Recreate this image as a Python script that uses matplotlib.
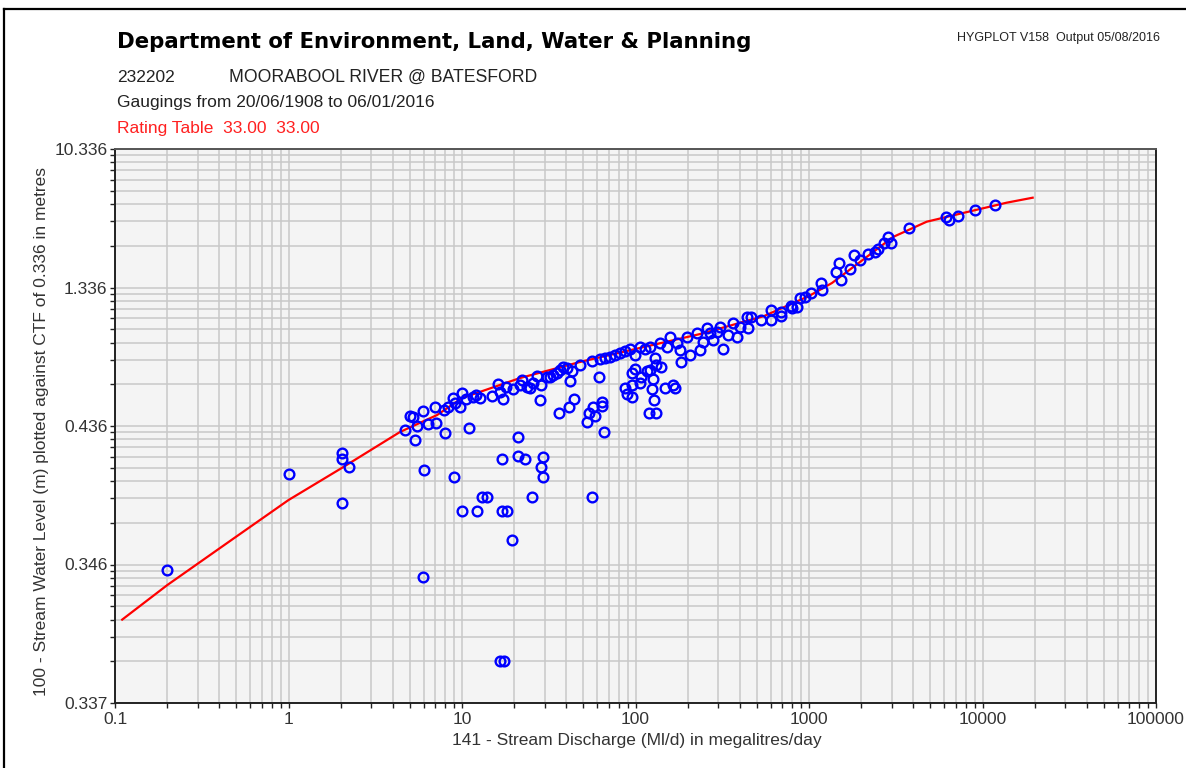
import matplotlib
matplotlib.use("Agg")
import matplotlib.pyplot as plt
from matplotlib.lines import Line2D
from matplotlib.ticker import LogLocator, FuncFormatter, NullFormatter

plt.rcParams['font.family'] = ['Liberation Sans', 'DejaVu Sans']

# Cease-to-flow level (m); stage is plotted as height above this datum
CTF = 0.336

# Rating table 33.00: discharge (Ml/d) and stage (m)
rating_q = [0.11, 0.2, 0.5, 1.0, 2.03, 4.39, 7.18, 10.0, 21.6, 47.9, 100,
            235, 551, 1000, 1357, 1968, 3048, 4767, 7725, 13780, 19460]
rating_stage = [0.3400, 0.3431, 0.3519, 0.3652, 0.3858, 0.4265, 0.4560,
                0.4950, 0.5580, 0.6260, 0.6960, 0.7970, 0.9580, 1.2040, 1.4140,
                1.8640, 2.6510, 3.3210, 3.7870, 4.4320, 4.7860]

# Gaugings 1908-2016: measured discharge (Ml/d) and stage (m)
gauge_q = [
    0.2, 1.0, 2.03, 2.03, 2.24, 2.03, 4.69, 5.01, 5.24, 5.53, 5.36, 5.99, 6.04,
    5.99, 6.40, 6.99, 7.08, 7.98, 7.87, 8.34, 8.91, 9.11, 9.74, 10.0, 9.03, 11.0,
    10.5, 11.6, 12.0, 12.7, 10.0, 12.2, 13.0, 14.0, 14.9, 16.2, 16.6, 17.2, 16.9,
    17.9, 16.9, 18.1, 19.3, 16.6, 17.5, 19.8, 21.1, 21.1, 22.1, 23.1, 21.6, 23.6,
    24.7, 25.8, 27.2, 28.2, 28.4, 29.4, 28.4, 29.2, 25.3, 30.8, 32.1, 33.6, 35.1,
    36.4, 36.7, 38.4, 40.1, 41.6, 41.9, 42.9, 44.2, 47.9, 55.9, 52.8, 54.2, 57.1,
    58.4, 61.9, 63.8, 64.1, 65.8, 56.2, 62.4, 66.7, 71.3, 76.2, 81.4, 87.0, 93.0,
    87.0, 88.9, 95.0, 95.0, 95.0, 99.3, 106, 108, 116, 121, 124, 126, 127, 119,
    132, 130, 132, 141, 148, 165, 169, 99.3, 106, 113, 121, 138, 151, 158, 173,
    180, 184, 197, 206, 225, 235, 246, 257, 269, 281, 294, 307, 321, 343, 366,
    383, 400, 437, 447, 465, 527, 605, 605, 692, 692, 783, 803, 852, 886, 946,
    1029, 1165, 1194, 1434, 1492, 1530, 1714, 1820, 1980, 2197, 2390, 2512, 2706,
    2872, 2958, 3791, 6133, 6446, 7224, 9029, 11800,
]
gauge_stage = [
    0.3451, 0.3812, 0.4002, 0.3934, 0.3869, 0.3636, 0.4296, 0.4541, 0.4515,
    0.4360, 0.4153, 0.4643, 0.3841, 0.3441, 0.4393, 0.4724, 0.4405, 0.4255,
    0.4664, 0.4739, 0.4943, 0.4817, 0.4724, 0.5081, 0.3791, 0.4333, 0.4918,
    0.4989, 0.5034, 0.4962, 0.3605, 0.3605, 0.3665, 0.3665, 0.5007, 0.5358,
    0.5129, 0.4918, 0.3934, 0.5283, 0.3605, 0.3605, 0.3510, 0.3380, 0.3380,
    0.5199, 0.4188, 0.3967, 0.5509, 0.3934, 0.5337, 0.5262, 0.5231, 0.5392,
    0.5656, 0.4900, 0.5337, 0.3961, 0.3869, 0.3786, 0.3665, 0.5631, 0.5606,
    0.5694, 0.5787, 0.4608, 0.5897, 0.6042, 0.5969, 0.4739, 0.5485, 0.5869,
    0.4927, 0.6117, 0.6307, 0.4435, 0.4608, 0.4739, 0.4548, 0.5631, 0.4858,
    0.4754, 0.4270, 0.3665, 0.6390, 0.6440, 0.6490, 0.6616, 0.6745, 0.6860,
    0.6938, 0.5231, 0.5053, 0.4989, 0.5337, 0.5787, 0.5925, 0.5392, 0.5606,
    0.5869, 0.5897, 0.5199, 0.5533, 0.4900, 0.4608, 0.4594, 0.6440, 0.6117,
    0.6042, 0.5231, 0.5337, 0.5231, 0.6616, 0.7100, 0.6938, 0.7100, 0.7310,
    0.7100, 0.7730, 0.7310, 0.6900, 0.6274, 0.7730, 0.6616, 0.8030, 0.6900,
    0.7420, 0.8433, 0.8030, 0.7540, 0.8160, 0.8575, 0.6938, 0.7900, 0.8870,
    0.7730, 0.8575, 0.9520, 0.8433, 0.9518, 0.9185, 1.0243, 0.9185, 0.9622,
    1.0050, 1.0755, 1.0434, 1.0632, 1.1713, 1.1947, 1.2537, 1.4077, 1.2954,
    1.6373, 1.8305, 1.4688, 1.6888, 2.0530, 1.9158, 2.0818, 2.1512, 2.2228,
    2.4198, 2.6385, 2.4429, 3.0249, 3.5831, 3.4076, 3.6191, 3.9626, 4.2780,
]

x_ticks = [0.1, 1, 10, 100, 1000, 10000, 100000]
y_ticks = [0.001, 0.01, 0.1, 1, 10]

fig = plt.figure(figsize=(11.86, 7.68), dpi=100)
fig.patch.set_facecolor('white')
ax = fig.add_axes([115 / 1186, 1 - 703 / 768, 1041 / 1186, 554 / 768])
ax.set_facecolor('#f4f4f4')

ax.set_xscale('log')
ax.set_yscale('log')
ax.set_xlim(0.1, 100000)
ax.set_ylim(0.001, 10)

ax.plot(rating_q, [s - CTF for s in rating_stage], color='#ff0000', lw=1.6,
        zorder=3, solid_joinstyle='round')
ax.plot(gauge_q, [s - CTF for s in gauge_stage], linestyle='none', marker='o',
        markersize=7, markerfacecolor='none', markeredgecolor='#0000ff',
        markeredgewidth=1.7, zorder=4)

ax.xaxis.set_minor_locator(LogLocator(base=10, subs=range(2, 10), numticks=20))
ax.yaxis.set_minor_locator(LogLocator(base=10, subs=range(2, 10), numticks=20))
ax.set_xticks(x_ticks)
ax.set_yticks(y_ticks)
ax.xaxis.set_major_formatter(FuncFormatter(lambda v, p: f"{v:g}"))
ax.yaxis.set_major_formatter(FuncFormatter(lambda v, p: f"{CTF + v:.3f}"))
ax.xaxis.set_minor_formatter(NullFormatter())
ax.yaxis.set_minor_formatter(NullFormatter())

ax.grid(True, which='both', color='#c8c8c8', lw=1.1)
ax.set_axisbelow(True)
ax.tick_params(which='both', direction='out', length=3.5, width=1.0,
               color='#222222', labelsize=12.5, labelcolor='#333333', pad=2)
ax.tick_params(axis='x', pad=3)

for side in ('left', 'bottom', 'right'):
    ax.spines[side].set_color('#222222')
    ax.spines[side].set_linewidth(1.4)
ax.spines['top'].set_color('#555555')
ax.spines['top'].set_linewidth(1.4)

fig.text(42 / 1186, 1 - 431 / 768,
         '100 - Stream Water Level (m) plotted against CTF of 0.336 in metres',
         rotation=90, ha='center', va='center', fontsize=12.5, color='#333333')
fig.text(637 / 1186, 1 - 740 / 768,
         '141 - Stream Discharge (Ml/d) in megalitres/day',
         ha='center', va='center', fontsize=12.5, color='#333333')

# Header block
fig.text(117 / 1186, 1 - 42 / 768,
         'Department of Environment, Land, Water & Planning',
         ha='left', va='center', fontsize=15.3, fontweight='bold', color='black',
         family='DejaVu Sans')
fig.text(117 / 1186, 1 - 77 / 768, '232202', ha='left', va='center',
         fontsize=12.5, color='#222222')
fig.text(229 / 1186, 1 - 77 / 768, 'MOORABOOL RIVER @ BATESFORD', ha='left',
         va='center', fontsize=12.7, color='#222222')
fig.text(117 / 1186, 1 - 102 / 768, 'Gaugings from 20/06/1908 to 06/01/2016',
         ha='left', va='center', fontsize=12.5, color='#222222')
fig.text(117 / 1186, 1 - 128 / 768, 'Rating Table  33.00  33.00', ha='left',
         va='center', fontsize=12.5, color='#ff2020')
fig.text(1160 / 1186, 1 - 38 / 768, 'HYGPLOT V158  Output 05/08/2016',
         ha='right', va='center', fontsize=9, color='#222222')

# Page frame
fig.add_artist(Line2D([4 / 1186, 1.0], [1 - 9 / 768, 1 - 9 / 768],
                      transform=fig.transFigure, color='black', lw=1.6))
fig.add_artist(Line2D([4 / 1186, 4 / 1186], [0.0, 1 - 9 / 768],
                      transform=fig.transFigure, color='black', lw=1.6))

fig.savefig('out.png', dpi=100)
